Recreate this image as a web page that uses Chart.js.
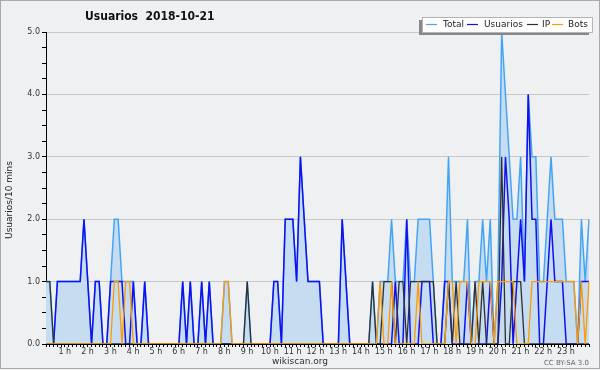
<!DOCTYPE html>
<html>
<head>
<meta charset="utf-8">
<script src="https://cdn.jsdelivr.net/npm/chart.js@4.4.1/dist/chart.umd.min.js"></script>
<style>
  html, body { margin: 0; padding: 0; background: #eff0f2; }
  #wrap { width: 600px; height: 370px; }
</style>
</head>
<body>
<div id="wrap"><canvas id="usersChart" width="600" height="370"></canvas></div>
<script>
// one label per hour, the chart has 6 slots of 10 min per hour
const hourLabels = ['', '1 h', '2 h', '3 h', '4 h', '5 h', '6 h', '7 h', '8 h', '9 h', '10 h', '11 h',
  '12 h', '13 h', '14 h', '15 h', '16 h', '17 h', '18 h', '19 h', '20 h', '21 h', '22 h', '23 h'];

// values per 10 min slot
const total = [
  1,1,0,1,1,1, 1,1,1,1,2,1, 0,1,1,0,0,1, 2,2,1,1,1,1, 0,0,1,0,0,0, 0,0,0,0,0,0,
  1,0,1,0,0,1, 0,1,0,0,0,1, 1,0,0,0,0,1, 0,0,0,0,0,0, 1,1,0,2,2,2, 1,3,2,1,1,1,
  1,0,0,0,0,0, 2,1,0,0,0,0, 0,0,1,0,1,1, 1,2,1,1,1,2, 1,1,2,2,2,2, 1,0,0,1,3,1,
  1,1,1,2,0,1, 1,2,1,2,0,1, 5,4,3,2,2,3, 1,4,3,3,1,1, 2,3,2,2,2,1, 1,1,0,2,1,2
];
const usuarios = [
  0,0,0,1,1,1, 1,1,1,1,2,1, 0,1,1,0,0,1, 1,1,1,0,0,1, 0,0,1,0,0,0, 0,0,0,0,0,0,
  1,0,1,0,0,1, 0,1,0,0,0,0, 0,0,0,0,0,0, 0,0,0,0,0,0, 1,1,0,2,2,2, 1,3,2,1,1,1,
  1,0,0,0,0,0, 2,1,0,0,0,0, 0,0,0,0,0,0, 0,0,1,0,0,2, 0,0,0,1,1,1, 0,0,0,1,1,0,
  0,0,0,1,0,0, 0,0,0,1,0,0, 1,3,2,0,1,2, 1,4,2,2,0,0, 1,2,1,1,1,0, 0,0,0,1,1,1
];
const ip = [
  1,1,0,0,0,0, 0,0,0,0,0,0, 0,0,0,0,0,0, 0,0,0,0,0,0, 0,0,0,0,0,0, 0,0,0,0,0,0,
  0,0,0,0,0,0, 0,0,0,0,0,0, 0,0,0,0,0,1, 0,0,0,0,0,0, 0,0,0,0,0,0, 0,0,0,0,0,0,
  0,0,0,0,0,0, 0,0,0,0,0,0, 0,0,1,0,0,1, 1,1,0,1,1,0, 1,1,1,1,1,1, 1,0,0,0,1,0,
  1,0,0,0,0,1, 0,1,0,0,0,0, 3,0,0,1,1,1, 0,0,0,0,0,0, 0,0,0,0,0,0, 0,0,0,0,0,0
];
const bots = [
  0,0,0,0,0,0, 0,0,0,0,0,0, 0,0,0,0,0,0, 1,1,0,1,1,0, 0,0,0,0,0,0, 0,0,0,0,0,0,
  0,0,0,0,0,0, 0,0,0,0,0,1, 1,0,0,0,0,0, 0,0,0,0,0,0, 0,0,0,0,0,0, 0,0,0,0,0,0,
  0,0,0,0,0,0, 0,0,0,0,0,0, 0,0,0,0,1,0, 0,1,0,0,0,0, 0,0,1,0,0,0, 0,0,0,0,1,1,
  0,1,1,1,0,0, 1,1,1,1,0,1, 1,1,1,1,0,0, 0,0,1,1,1,1, 1,1,1,1,1,1, 1,1,0,1,0,1
];

const slots = [];
hourLabels.forEach((h, hour) => {
  for (let m = 0; m < 60; m += 10) slots.push(hour + ':' + String(m).padStart(2, '0'));
});

const font = "'DejaVu Sans', sans-serif";
Chart.defaults.font.family = font;
Chart.defaults.color = '#333';

// legend entries: label, colour, where the sample line and the text start
const legendItems = [
  ['Total', '#44a4f8', 426, 443],
  ['Usuarios', '#1010f0', 467, 484],
  ['IP', '#303030', 527, 542],
  ['Bots', '#ff9a00', 552, 568]
];

const decor = {
  id: 'decor',
  beforeDraw(chart) {
    const c = chart.ctx;
    c.save();
    c.fillStyle = '#eff0f2';
    c.fillRect(0, 0, chart.width, chart.height);
    c.restore();
  },
  afterDraw(chart) {
    const c = chart.ctx;
    c.save();

    // title
    c.fillStyle = '#111';
    c.textAlign = 'left';
    c.textBaseline = 'middle';
    c.font = "bold 12px 'DejaVu Sans Condensed', " + font;
    c.fillText('Usuarios  2018-10-21', 85, 16.5);

    // legend box with its shadow
    c.fillStyle = '#888';
    c.fillRect(419, 20, 170, 15);
    c.fillStyle = '#fff';
    c.fillRect(422, 17, 170, 15);
    c.strokeStyle = '#b4b4b4';
    c.lineWidth = 1;
    c.strokeRect(422.5, 17.5, 170, 15);
    c.font = '9px ' + font;
    legendItems.forEach(([label, color, lx, tx]) => {
      c.strokeStyle = color;
      c.lineWidth = 1.2;
      c.beginPath();
      c.moveTo(lx, 24.5);
      c.lineTo(lx + 11, 24.5);
      c.stroke();
      c.fillStyle = '#222';
      c.fillText(label, tx, 24.8);
    });

    // axis title
    c.save();
    c.translate(10, 200);
    c.rotate(-Math.PI / 2);
    c.textAlign = 'center';
    c.fillStyle = '#222';
    c.font = '9px ' + font;
    c.fillText('Usuarios/10 mins', 0, 0);
    c.restore();

    // footer
    c.textAlign = 'center';
    c.fillStyle = '#333';
    c.font = '9px ' + font;
    c.fillText('wikiscan.org', 300, 361.5);
    c.textAlign = 'right';
    c.fillStyle = '#666';
    c.font = '7px ' + font;
    c.fillText('CC BY-SA 3.0', 589, 363);

    // frame
    c.strokeStyle = '#a8a8a8';
    c.lineWidth = 1;
    c.strokeRect(0.5, 0.5, 599, 368);
    c.restore();
  }
};

const line = (label, data, color, width, order) => ({
  label, data, order,
  borderColor: color,
  borderWidth: width,
  pointRadius: 0,
  tension: 0,
  fill: false
});

const totalSet = line('Total', total, '#44a4f8', 1.5, 4);
totalSet.fill = 'origin';
totalSet.backgroundColor = '#c6dcf0';

new Chart(document.getElementById('usersChart'), {
  type: 'line',
  data: {
    labels: slots,
    datasets: [
      totalSet,
      line('Usuarios', usuarios, '#1010f0', 1.5, 3),
      line('IP', ip, '#303030', 1.3, 2),
      line('Bots', bots, '#ff9a00', 1.3, 1)
    ]
  },
  options: {
    responsive: false,
    animation: false,
    devicePixelRatio: 1,
    layout: { padding: { top: 32, right: 11, left: 0, bottom: 0 } },
    plugins: {
      legend: { display: false },
      tooltip: { enabled: false },
      title: { display: false }
    },
    scales: {
      x: {
        offset: false,
        afterFit: (s) => { s.height = 26; },
        grid: { drawOnChartArea: false, tickLength: 3, tickColor: '#000' },
        border: { color: '#000', width: 1 },
        ticks: {
          autoSkip: false,
          maxRotation: 0,
          padding: 0,
          labelOffset: -4,
          font: { size: 8 },
          callback: (v, i) => (i % 6 === 0 ? hourLabels[i / 6] : '')
        }
      },
      y: {
        min: 0,
        max: 5,
        afterFit: (s) => { s.width = 46; },
        grid: {
          color: (ctx) => (ctx.tick && ctx.tick.value % 1 === 0 ? '#c8c8c8' : 'rgba(0,0,0,0)'),
          tickColor: '#000',
          tickLength: 4
        },
        border: { color: '#000', width: 1 },
        ticks: {
          stepSize: 0.25,
          autoSkip: false,
          padding: 2,
          font: { size: 8 },
          callback: (v) => (v % 1 === 0 ? v.toFixed(1) : '')
        }
      }
    }
  },
  plugins: [decor]
});
</script>
</body>
</html>
